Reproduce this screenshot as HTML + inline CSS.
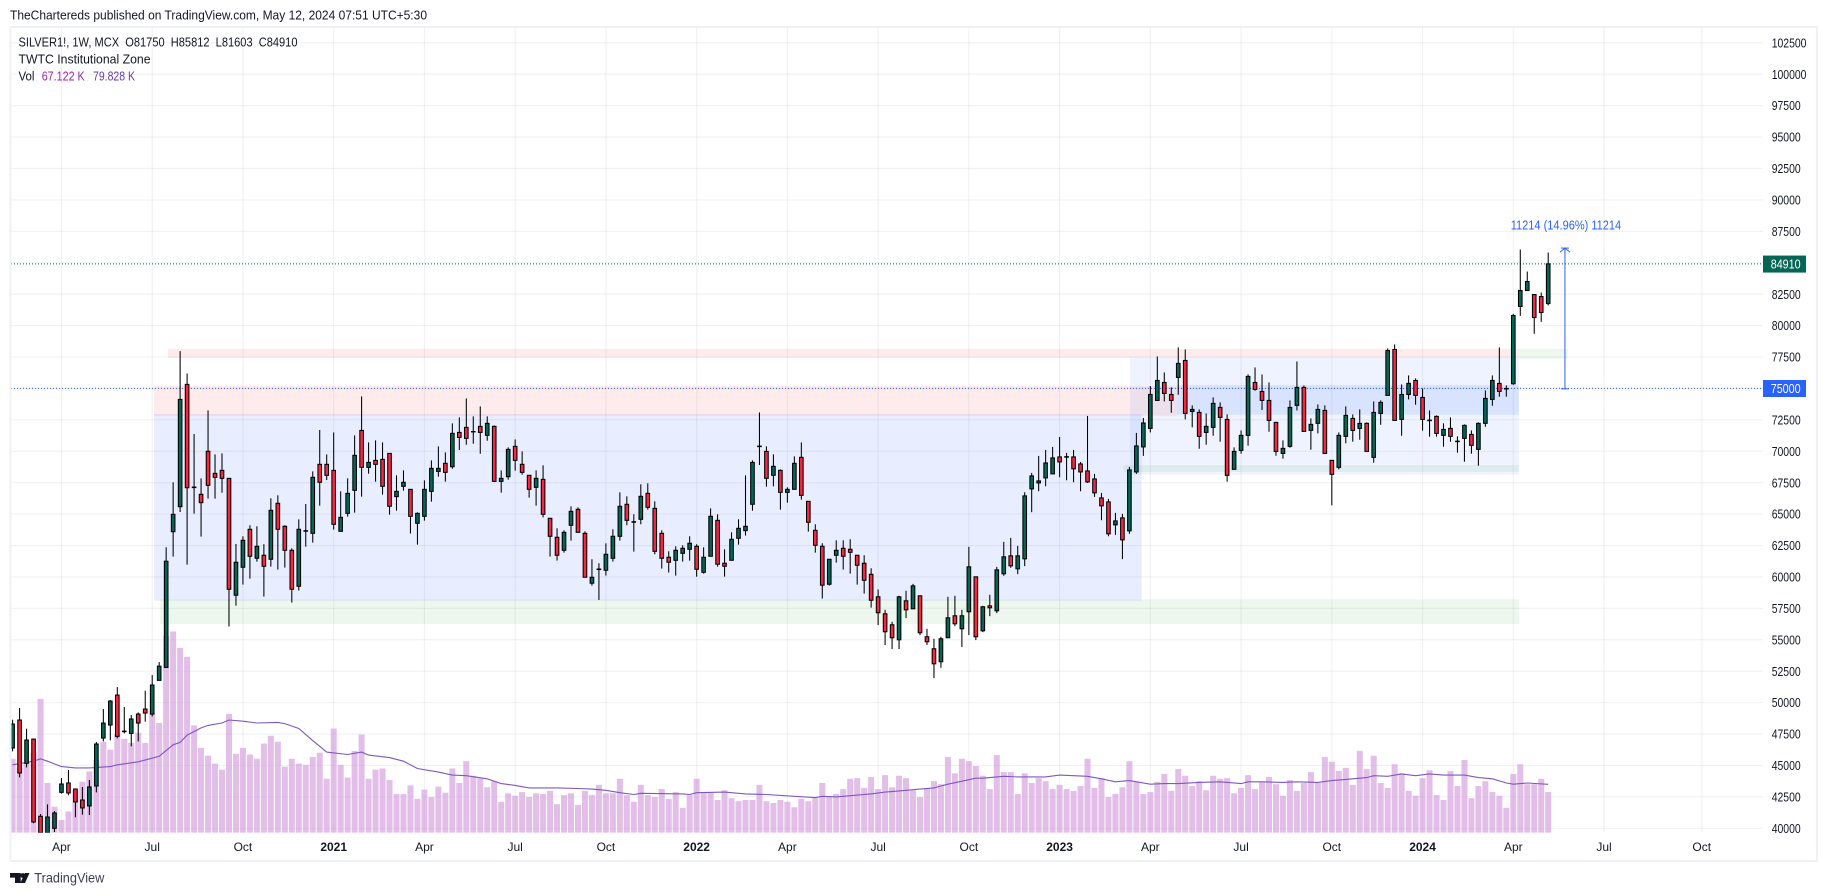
<!DOCTYPE html>
<html lang="en">
<head>
<meta charset="utf-8">
<title>SILVER1! weekly chart</title>
<style>
html,body{margin:0;padding:0;background:#fff;width:1827px;height:896px;overflow:hidden}
svg{display:block;font-family:"Liberation Sans",sans-serif}
</style>
</head>
<body>
<svg id="chart" xmlns="http://www.w3.org/2000/svg" width="1827" height="896" viewBox="0 0 1827 896">
  <defs>
    <clipPath id="plot-clip"><rect x="11" y="28" width="1751.7" height="804.7"/></clipPath>
  </defs>
  <rect x="0" y="0" width="1827" height="896" fill="#ffffff"/>
  <text x="10" y="19.5" font-size="13" fill="#131722" textLength="417" lengthAdjust="spacingAndGlyphs">TheChartereds published on TradingView.com, May 12, 2024 07:51 UTC+5:30</text>
  <g id="grid"></g>
  <g id="volume" clip-path="url(#plot-clip)"></g>
  <g id="zones" clip-path="url(#plot-clip)"></g>
  <g id="levels"></g>
  <g id="candles" clip-path="url(#plot-clip)"></g>
  <g id="measure"></g>
  <g id="price-axis"></g>
  <g id="time-axis"></g>
  <g fill="#f0f0f7">
    <rect x="9.5" y="26" width="1808.5" height="2"/>
    <rect x="9.5" y="26" width="2" height="836"/>
    <rect x="1816" y="26" width="2" height="836"/>
    <rect x="9.5" y="860" width="1808.5" height="2"/>
  </g>
  <g font-size="12.5" fill="#131722">
    <text x="18.5" y="46.5" textLength="279" lengthAdjust="spacingAndGlyphs" xml:space="preserve">SILVER1!, 1W, MCX  O81750  H85812  L81603  C84910</text>
    <text x="18.5" y="63.5" textLength="132" lengthAdjust="spacingAndGlyphs">TWTC Institutional Zone</text>
    <text x="18.5" y="80.5" textLength="16" lengthAdjust="spacingAndGlyphs">Vol</text>
    <text x="41.7" y="80.5" fill="#9c27b0" textLength="43" lengthAdjust="spacingAndGlyphs">67.122 K</text>
    <text x="93" y="80.5" fill="#673ab7" textLength="42" lengthAdjust="spacingAndGlyphs">79.828 K</text>
  </g>
  <g>
    <g fill="#131722">
      <polygon points="10,873 20.7,873 20.7,883 15,883 15,877.6 10,877.6"/>
      <circle cx="22.8" cy="875.5" r="2.4"/>
      <polygon points="25,873 29.5,873 25,883 20.2,883"/>
    </g>
    <text x="34.3" y="882.5" font-size="14" fill="#3b3f4a" textLength="70" lengthAdjust="spacingAndGlyphs">TradingView</text>
  </g>
</svg>
<script>
const opens = [46387,48615,45168,47100,40955,39500,40000,42860,43605,43130,
42250,41780,43365,47180,48215,50600,47690,47550,49090,49490,
49090,51770,52800,63600,65590,75320,67110,66575,70000,68240,
68480,67845,58545,60770,63790,61485,61725,61405,65860,64030,
62120,59260,63640,63470,68960,68960,68480,63630,65060,66890,
71660,68720,69275,69355,69830,66390,67210,66970,64270,64825,
66810,68400,69040,68770,71500,71900,71540,71980,71265,71980,
67605,67975,70390,68960,68085,67130,67765,64665,63155,62120,
64110,65380,63470,59500,60590,60530,61485,63235,65780,64355,
64585,66650,65460,63470,61565,61325,61880,62200,62440,60370,
61645,64505,61090,61325,63075,63685,65780,70370,69990,68085,
68480,66730,66970,69515,66015,63710,62440,59420,61725,62280,
62200,61725,61090,60210,58420,57070,56195,55000,58100,57465,
58500,55240,54285,53250,55160,56910,55875,57230,60010,55715,
57700,57305,60250,61680,60645,61440,67005,67480,67880,68200,
69550,69530,69550,68990,68435,67800,66290,65970,64145,64700,
63665,68355,70345,71820,74045,75475,74520,75875,77225,73170,
73090,71500,71900,73490,72535,68560,70070,71265,75475,74760,
74045,72300,69830,70390,73650,75080,71660,72220,73250,69275,
68720,71185,72615,71820,72220,69515,73010,74445,78100,72535,
74520,75635,74285,72435,72775,71265,71820,70765,71025,71340,
70150,72220,74125,75400,74955,75370,81520,82790,82470,82310,81750];

const highs = [48640,49568,47925,47100,41140,41900,41379,44003,44640,43130,
43290,43840,46865,49490,50200,51240,49650,49010,49220,50945,
52190,53225,62360,67530,77970,76190,71370,67845,73250,69750,
69830,67845,62625,63235,64110,64030,62600,66255,66495,64110,
62280,64585,65805,68400,71690,69750,71500,66810,67845,71265,
74365,70705,70865,70705,69830,68085,68480,66970,65140,67685,
69275,70390,69910,72220,72695,74205,72775,73570,72775,72060,
68480,70310,70945,69990,68085,68480,68880,64665,63870,63710,
65620,65540,63630,61405,61090,62675,63790,66730,66415,64985,
67370,67450,66015,63710,62040,62440,62520,63235,62600,62360,
65460,64985,62200,63550,64585,68085,69275,73090,70390,69755,
68560,67130,69595,70705,66015,64190,62680,61405,62915,62915,
63000,61725,61725,60690,59000,57385,56430,58500,58900,59450,
58500,55875,55080,55240,58420,58500,57385,62395,60010,57700,
58580,60805,62790,63110,62475,66740,68280,69630,70105,70345,
71140,69870,70105,69150,72810,68200,66690,66210,65100,65020,
68755,71460,72650,75185,77545,76270,75080,78260,78100,73650,
73330,73010,74285,73890,72935,70310,71660,76115,76670,76115,
75475,72300,70865,74045,77145,75240,72615,73730,73650,69275,
71500,73570,72935,73330,72300,73965,74045,78180,78500,75320,
76035,75795,75000,73250,72855,72220,72695,71185,72140,71660,
72300,74840,76035,78260,75240,80935,86050,84300,82470,82630,85812];

const lows = [46122,44055,44850,40400,39500,39400,39710,42757,42625,40875,
41090,41060,42860,46915,47000,47155,47550,46520,46915,48480,
48900,51770,52800,61620,65170,60980,65035,63210,66230,66230,
66700,56060,57720,59390,59870,61220,58440,60820,60585,60745,
57960,58915,62410,62730,65670,67710,63765,63630,64800,65115,
66390,68215,67580,66545,64955,65275,66865,63455,62570,64480,
65990,67980,67580,68610,70100,70520,70600,69805,70840,67605,
66705,67740,68455,68135,66310,65670,64745,61620,61300,61935,
62890,63550,59975,59310,58170,60105,61220,62890,64110,62015,
64190,65355,61800,60665,60350,60105,61220,61300,60025,60265,
61645,60820,60025,61325,62570,63290,65275,68905,67180,67210,
65355,65910,66970,66150,63605,61935,58280,59310,61140,60585,
60265,59390,58675,57560,56170,54580,54260,54260,56725,57465,
55370,54580,51950,52775,55160,56090,54420,55370,54975,55610,
56880,57120,60090,60725,60220,60860,65150,66820,67215,68200,
67930,67695,67535,66820,67480,66370,64515,63240,63350,61415,
63430,68200,69630,71500,74045,73965,73065,74495,72535,71900,
70200,70520,71235,70760,67580,68560,69805,70440,74815,73280,
71555,69645,69410,70280,73250,71580,70125,71420,69830,65700,
68560,70630,70760,70920,69990,69090,72110,74445,72455,71235,
74125,73700,71635,71160,71160,70360,70760,69885,69170,69805,
68850,71950,73620,74340,74340,75290,80775,82790,79345,80300,81603];

const closes = [48296,44400,47024,40500,39600,40900,41220,43525,42810,42095,
41620,43290,46705,48375,50125,47315,47730,48700,48375,49170,
51400,52900,61250,64980,74125,67100,67150,65910,67290,67925,
67845,59020,61170,62915,61645,62440,60850,65300,63790,62120,
59020,63790,63680,67925,67530,68085,64190,64745,66650,69675,
68720,69115,68960,67210,65620,66810,67530,64825,65060,66970,
68640,68640,68320,71425,71100,71025,71570,71500,72220,67605,
67845,70150,69275,68320,66970,67845,64985,63235,61725,63550,
65220,63550,59975,59975,60630,61800,63235,65620,64505,64395,
66415,65540,62040,61485,61170,62120,62280,62680,60610,61565,
64825,61010,60850,62995,63870,64030,69115,70410,67845,68800,
66730,66970,69040,66490,64345,62520,59340,61405,62120,61645,
61960,60930,59735,58145,57150,55640,55160,58420,57385,59290,
55560,54840,53090,55080,56750,56275,56910,60805,55240,57625,
57545,60565,61600,60885,61680,66450,68040,67640,69070,69470,
69150,69570,68600,68355,67560,66690,65655,63430,64460,62950,
68515,70425,72250,74520,75635,74600,74045,76990,73010,73330,
71185,71980,73810,72695,68085,69990,71265,75955,74920,74045,
72455,69990,70230,73490,75080,71580,72140,73330,69830,68160,
71265,72855,71660,72220,69990,73090,73890,78020,72455,74520,
75400,74445,72535,72475,71420,71740,71185,70805,72060,70470,
72220,74205,75635,74760,74995,80800,82790,83505,80640,81040,84910];

const volumes = [122,107,115,131,221,82,43,21,35,71,
84,101,120,150,137,163,155,148,165,148,
197,181,325,332,305,290,177,140,127,114,
104,196,130,140,129,122,147,160,150,109,
122,114,112,125,132,89,172,112,91,135,
162,89,104,106,87,64,64,78,56,71,
59,76,66,106,82,118,94,90,75,85,
51,65,61,67,59,65,64,69,47,62,
65,46,69,62,79,65,65,89,62,51,
79,62,59,72,56,67,41,62,89,67,
67,54,70,57,52,54,54,79,52,49,
54,51,42,56,52,58,82,59,64,72,
89,90,74,92,72,95,75,94,90,70,
59,73,85,80,125,98,122,118,110,94,
72,128,100,100,64,98,82,90,85,72,
79,72,69,77,122,74,90,59,64,75,
118,84,64,67,84,97,69,105,94,77,
85,70,94,89,90,65,74,95,72,84,
92,80,61,87,69,82,100,82,125,117,
102,107,79,135,105,127,82,74,113,98,
69,61,90,103,62,54,102,77,120,57,
77,85,67,61,41,97,113,80,80,89,67.122];

const maBars = [0,3,4,5,7,9,11,14,15,18,20,21,23,24,25,27,28,30,31,33,35,38,39,41,43,45,48,50,51,54,56,58,61,63,65,68,70,72,74,78,81,83,85,87,89,90,96,97,98,102,105,108,112,115,116,118,121,123,125,127,130,132,133,134,136,138,139,142,144,148,150,154,156,158,159,160,161,163,165,167,170,173,176,177,179,182,184,187,189,191,194,195,197,199,201,203,205,208,210,212,214,215,217,220];
const maValues = [112,118,122,118,109,107,107,109,112,117,123,126,145,149,161,173,177,181,186,184,181,182,180,172,152,133,129,133,128,124,118,106,100,95,94,89,81,78,74,74,73,72,70,66,63,65,64,63,66,67,64,63,60,58,60,59,62,64,67,69,72,74,77,80,85,90,90,93,92,92,95,93,89,84,85,86,84,80,81,81,83,84,81,84,84,83,84,83,86,88,91,94,93,97,94,97,95,95,91,89,82,80,82,79.828];

const priceTicks = ['102500','100000','97500','95000','92500','90000','87500','85000','82500','80000','77500','75000','72500','70000','67500','65000','62500','60000','57500','55000','52500','50000','47500','45000','42500','40000'];
const timeTickLabels = ['Apr','Jul','Oct','2021','Apr','Jul','Oct','2022','Apr','Jul','Oct','2023','Apr','Jul','Oct','2024','Apr','Jul','Oct'];
const timeTickBars = [7,20,33,46,59,72,85,98,111,124,137,150,163,176,189,202,215,228,242];

const zoneNames = ['range-box-2020-2023','supply-zone-lower','supply-zone-upper','demand-zone-lower','demand-zone-upper-right','range-box-2023-2024','overlap-supply-box','demand-zone-middle'];
const zoneStartBars = [20.26,20.26,22.26,21.1,215.8,160.1,166.78,159.2];
const zoneEndBars = [161.76,166.78,215.8,215.8,222.8,215.8,215.8,215.8];
const zoneTopPrices = [72965,75185,78140,58220,78140,77440,75270,68905];
const zoneBottomPrices = [58110,72830,77430,56255,77365,68135,72910,68350];
const zoneColors = ['blue','red','red','green','green','paleblue','blue','green'];

const measureBar = 222.4;
const measureFrom = 75000;
const measureTo = 86214;
const lastPrice = 84910;
const measureLabel = '11214 (14.96%) 11214';

const UP = '#056656', DOWN = '#f5283f';
const svgNS = 'http://www.w3.org/2000/svg';
function xScale(bar){ return 12.6 + 6.98 * bar; }
function yScale(price){ return 828.3 - (price - 40000) * 0.012568; }
function volScale(v){ return 832.7 - v * 0.606; }
function mk(tag, parent, attrs){
  const el = document.createElementNS(svgNS, tag);
  for (const k in attrs) el.setAttribute(k, attrs[k]);
  parent.appendChild(el);
  return el;
}
const fills = {
  blue: ['#2962ff', 0.105],
  paleblue: ['#2962ff', 0.08],
  red: ['#f23645', 0.1],
  green: ['#4caf50', 0.1]
};

const gridG = document.getElementById('grid');
const priceAxisG = document.getElementById('price-axis');
const timeAxisG = document.getElementById('time-axis');
const volumeG = document.getElementById('volume');
const zonesG = document.getElementById('zones');
const levelsG = document.getElementById('levels');
const candlesG = document.getElementById('candles');
const measureG = document.getElementById('measure');

priceTicks.forEach(function(label){
  const y = yScale(Number(label));
  const line = mk('line', gridG, {x1: 11, x2: 1762.7, y1: y, y2: y, stroke: 'rgba(42,46,90,0.065)', 'stroke-width': 1.1});
  
  
  const t = mk('text', priceAxisG, {x: 1771.7, y: y + 4.6, 'font-size': 13, fill: '#131722', textLength: (label.length * 5.8).toFixed(1), lengthAdjust: 'spacingAndGlyphs'});
  
  
  t.textContent = label;
});

timeTickBars.forEach(function(bar, i){
  const x = xScale(bar);
  const line = mk('line', gridG, {x1: x, x2: x, y1: 28, y2: 832.7, stroke: 'rgba(42,46,90,0.065)', 'stroke-width': 1.1});
  
  
  const isYear = /^\d+$/.test(timeTickLabels[i]);
  const t = mk('text', timeAxisG, {x: x, y: 851, 'font-size': 12, 'text-anchor': 'middle', fill: '#131722', 'font-weight': isYear ? 'bold' : 'normal'});
  
  
  t.textContent = timeTickLabels[i];
});

volumes.forEach(function(v, i){
  const top = volScale(v);
  const bar = mk('rect', volumeG, {x: xScale(i) - 3, y: top, width: 6, height: 832.7 - top, fill: '#ce93d8', 'fill-opacity': 0.6});
  
  
});

const maPoints = maBars.map(function(b, i){ return xScale(b).toFixed(1) + ',' + volScale(maValues[i]).toFixed(1); }).join(' ');
const maLine = mk('polyline', volumeG, {points: maPoints, fill: 'none', stroke: '#7e57c2', 'stroke-width': 1.1});



zoneNames.forEach(function(name, i){
  const x1 = xScale(zoneStartBars[i]), x2 = xScale(zoneEndBars[i]);
  const y1 = yScale(zoneTopPrices[i]), y2 = yScale(zoneBottomPrices[i]);
  const style = fills[zoneColors[i]];
  const r = mk('rect', zonesG, {x: x1, y: y1, width: x2 - x1, height: y2 - y1, fill: style[0], 'fill-opacity': style[1]});
  
  
});

const closeLine = mk('line', levelsG, {x1: 11, x2: 1763, y1: yScale(lastPrice), y2: yScale(lastPrice), stroke: UP, 'stroke-width': 1, 'stroke-dasharray': '1 2'});


const startLine = mk('line', levelsG, {x1: 11, x2: 1763, y1: yScale(measureFrom), y2: yScale(measureFrom), stroke: '#2962ff', 'stroke-width': 1, 'stroke-dasharray': '1 2'});



closes.forEach(function(c, i){
  const o = opens[i];
  const x = xScale(i);
  const g = mk('g', candlesG, {});
  
  
  const wick = mk('line', g, {x1: x, x2: x, y1: yScale(highs[i]), y2: yScale(lows[i]), stroke: '#000', 'stroke-width': 1.05});
  
  
  const top = yScale(Math.max(o, c)), bot = yScale(Math.min(o, c));
  const body = mk('rect', g, {x: x - 1.8, y: top, width: 3.6, height: Math.max(bot - top, 0.1), fill: c >= o ? UP : DOWN, stroke: '#000', 'stroke-width': 1.05});
  
  
});

const mx = xScale(measureBar), myTop = yScale(measureTo), myBot = yScale(measureFrom);
const shaft = mk('line', measureG, {x1: mx, x2: mx, y1: myTop, y2: myBot, stroke: '#2962ff', 'stroke-width': 1});


const head = mk('polyline', measureG, {points: (mx - 5) + ',' + (myTop + 4.6) + ' ' + mx + ',' + (myTop + 0.6) + ' ' + (mx + 5) + ',' + (myTop + 4.6), fill: 'none', stroke: '#2962ff', 'stroke-width': 1});


const capTop = mk('line', measureG, {x1: mx - 4, x2: mx + 4, y1: myTop + 0.6, y2: myTop + 0.6, stroke: '#2962ff', 'stroke-width': 1});


const capBot = mk('line', measureG, {x1: mx - 4, x2: mx + 4, y1: myBot + 0.4, y2: myBot + 0.4, stroke: '#2962ff', 'stroke-width': 1});


const mLabel = mk('text', measureG, {x: 1510.7, y: 229.5, 'font-size': 12.5, fill: '#2962ff', textLength: 110.5, lengthAdjust: 'spacingAndGlyphs'});


mLabel.textContent = measureLabel;

const closeBox = mk('rect', priceAxisG, {x: 1763, y: yScale(lastPrice) - 8.3, width: 43, height: 17, fill: UP});


const closeTxt = mk('text', priceAxisG, {x: 1770.7, y: yScale(lastPrice) + 4.8, 'font-size': 13, fill: '#fff', textLength: 30, lengthAdjust: 'spacingAndGlyphs'});


closeTxt.textContent = String(lastPrice);
const fromBox = mk('rect', priceAxisG, {x: 1763, y: yScale(measureFrom) - 8.4, width: 43, height: 17, fill: '#2962ff'});


const fromTxt = mk('text', priceAxisG, {x: 1770.7, y: yScale(measureFrom) + 4.8, 'font-size': 13, fill: '#fff', textLength: 30, lengthAdjust: 'spacingAndGlyphs'});


fromTxt.textContent = String(measureFrom);
</script>
</body>
</html>
